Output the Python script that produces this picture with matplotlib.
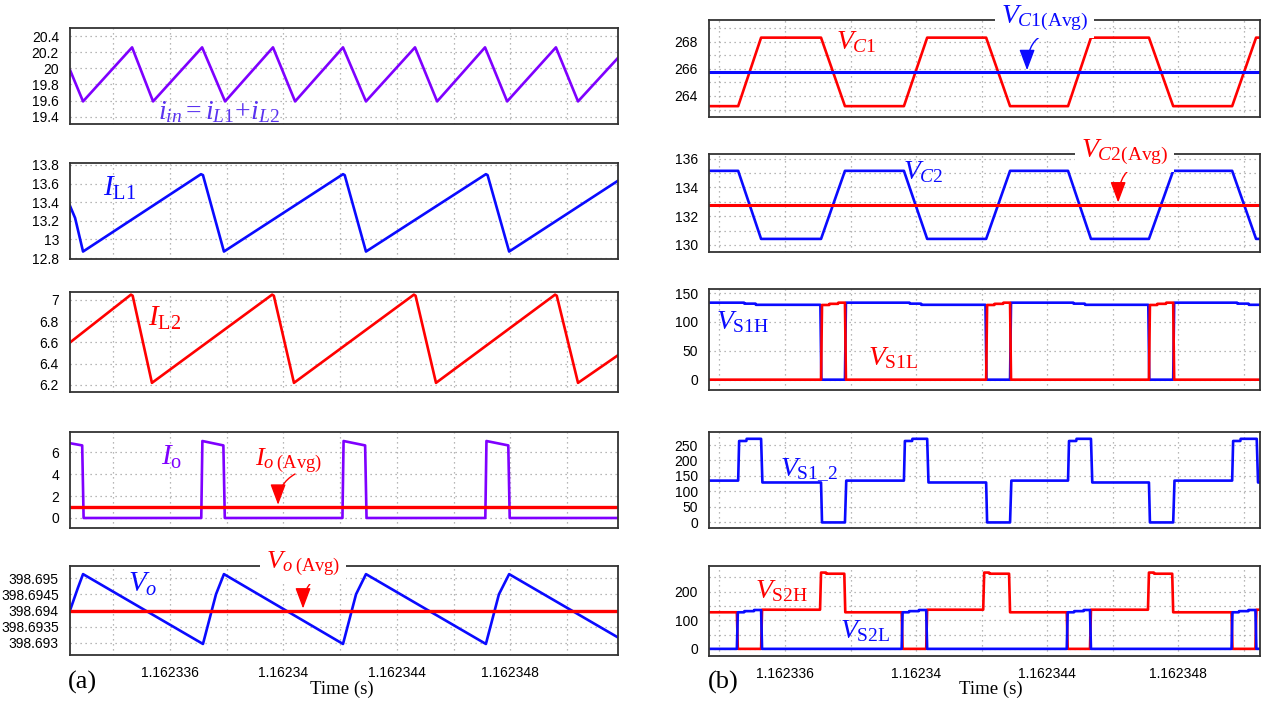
import matplotlib.pyplot as plt
from matplotlib.ticker import MultipleLocator
from matplotlib.transforms import ScaledTranslation

plt.rcParams['font.family'] = ['Liberation Sans', 'DejaVu Sans']
plt.rcParams['mathtext.fontset'] = 'custom'
plt.rcParams['mathtext.rm'] = 'Liberation Serif'
plt.rcParams['mathtext.it'] = 'Liberation Serif:italic'
plt.rcParams['mathtext.bf'] = 'Liberation Serif:bold'

# tiempo en microsegundos despues de 1.16233 s
x_ticks = [6, 10, 14, 18]
x_labels = ['1.162336', '1.16234', '1.162344', '1.162348']

# ---- (a) ----
t_iin = [2.47, 2.93, 4.66, 5.40, 7.13, 7.94, 9.63, 10.41, 12.10, 12.91, 14.64, 15.42, 17.11, 17.89, 19.61, 20.39, 21.80]
i_in = [19.98, 19.59, 20.26, 19.59, 20.26, 19.59, 20.26, 19.59, 20.26, 19.59, 20.26, 19.59, 20.26, 19.59, 20.26, 19.59, 20.13]

t_il1 = [2.47, 2.65, 2.93, 7.09, 7.16, 7.90, 12.10, 12.16, 12.91, 17.14, 17.20, 17.96, 21.80]
i_l1 = [13.36, 13.23, 12.87, 13.70, 13.69, 12.87, 13.70, 13.69, 12.87, 13.70, 13.69, 12.87, 13.63]

t_il2 = [2.47, 4.62, 4.68, 5.36, 9.60, 9.66, 10.37, 14.60, 14.66, 15.38, 19.58, 19.64, 20.39, 21.80]
i_l2 = [6.60, 7.05, 7.04, 6.22, 7.05, 7.04, 6.22, 7.05, 7.04, 6.22, 7.05, 7.04, 6.22, 6.48]

t_io = [2.47, 2.90, 2.95, 7.10, 7.14, 7.88, 7.93, 12.08, 12.12, 12.88, 12.93, 17.12, 17.16, 17.93, 17.98, 21.80]
i_o = [6.8, 6.6, 0.0, 0.0, 7.0, 6.6, 0.0, 0.0, 7.0, 6.6, 0.0, 0.0, 7.0, 6.6, 0.0, 0.0]
io_avg = 1.0

t_vo = [2.47, 2.75, 2.93, 7.16, 7.62, 7.90, 12.10, 12.56, 12.91, 17.14, 17.60, 17.96, 21.80]
v_o = [398.6940, 398.6947, 398.69512, 398.69297, 398.6945, 398.69512, 398.69297, 398.6945,
       398.69512, 398.69297, 398.6945, 398.69512, 398.69317]
vo_avg = 398.6940

# ---- (b) ----
t_vc = [3.68, 4.57, 5.27, 7.10, 7.83, 9.63, 10.34, 12.14, 12.87, 14.64, 15.34, 17.11, 17.85, 19.65, 20.38, 20.50]
v_c1 = [263.25, 263.25, 268.3, 268.3, 263.25, 263.25, 268.3, 268.3, 263.25, 263.25, 268.3, 268.3, 263.25, 263.25, 268.3, 268.3]
vc1_avg = 265.75
v_c2 = [135.15, 135.15, 130.42, 130.42, 135.15, 135.15, 130.42, 130.42, 135.15, 135.15, 130.42, 130.42, 135.15, 135.15, 130.42, 130.42]
vc2_avg = 132.8

t_s1h = [3.68, 4.75, 4.76, 5.10, 5.11, 7.08, 7.11, 7.83, 7.86, 9.80, 9.81, 10.15, 10.16, 12.12, 12.15, 12.87, 12.90,
         14.80, 14.81, 15.15, 15.16, 17.09, 17.12, 17.85, 17.88, 19.80, 19.81, 20.15, 20.16, 20.50]
v_s1h = [133.5, 133.5, 131.8, 131.8, 129.8, 129.8, 0, 0, 133.5, 133.5, 131.8, 131.8, 129.8, 129.8, 0, 0, 133.5,
         133.5, 131.8, 131.8, 129.8, 129.8, 0, 0, 133.5, 133.5, 131.8, 131.8, 129.8, 129.8]

t_s1l = [3.68, 7.10, 7.13, 7.35, 7.36, 7.62, 7.63, 7.83, 7.86, 12.14, 12.17, 12.39, 12.40, 12.66, 12.67, 12.87, 12.90,
         17.11, 17.14, 17.36, 17.37, 17.63, 17.64, 17.85, 17.88, 20.50]
v_s1l = [0, 0, 129.5, 129.5, 131.5, 131.5, 133.5, 133.5, 0, 0, 129.5, 129.5, 131.5, 131.5, 133.5, 133.5, 0,
         0, 129.5, 129.5, 131.5, 131.5, 133.5, 133.5, 0, 0]

t_s12 = [3.68, 4.57, 4.60, 4.82, 4.83, 5.27, 5.31, 7.10, 7.13, 7.83, 7.87, 9.63, 9.66, 9.88, 9.89, 10.34, 10.38,
         12.14, 12.17, 12.87, 12.91, 14.64, 14.67, 14.89, 14.90, 15.34, 15.38, 17.11, 17.14, 17.85, 17.89,
         19.65, 19.68, 19.90, 19.91, 20.40, 20.44, 20.50]
v_s12 = [135, 135, 263, 263, 270, 270, 129, 129, 0, 0, 135, 135, 263, 263, 270, 270, 129,
         129, 0, 0, 135, 135, 263, 263, 270, 270, 129, 129, 0, 0, 135,
         135, 263, 263, 270, 270, 129, 129]

t_s2h = [3.68, 4.53, 4.56, 5.27, 5.30, 7.07, 7.10, 7.25, 7.26, 7.81, 7.84, 9.56, 9.59, 10.31, 10.34,
         12.05, 12.08, 12.23, 12.24, 12.84, 12.87, 14.60, 14.63, 15.31, 15.34, 17.08, 17.11, 17.26, 17.27,
         17.82, 17.85, 19.63, 19.66, 20.36, 20.39, 20.50]
v_s2h = [128, 128, 0, 0, 137, 137, 267, 267, 263, 263, 128, 128, 0, 0, 137,
         137, 267, 267, 263, 263, 128, 128, 0, 0, 137, 137, 267, 267, 263,
         263, 128, 128, 0, 0, 137, 137]

t_s2l = [3.68, 4.53, 4.56, 4.75, 4.76, 5.05, 5.06, 5.27, 5.30, 9.56, 9.59, 9.78, 9.79, 10.08, 10.09, 10.31, 10.34,
         14.60, 14.63, 14.82, 14.83, 15.11, 15.12, 15.31, 15.34, 19.63, 19.66, 19.85, 19.86, 20.14, 20.15,
         20.36, 20.39, 20.50]
v_s2l = [0, 0, 128, 128, 132, 132, 136, 136, 0, 0, 128, 128, 132, 132, 136, 136, 0,
         0, 128, 128, 132, 132, 136, 136, 0, 0, 128, 128, 132, 132, 136,
         136, 0, 0]

PURPLE = '#7f00ff'
BLUE = '#0a0aff'
RED = '#ff0000'
W, H = 1271, 706

fig = plt.figure(figsize=(W / 100, H / 100), dpi=100)


def panel(x0, y0, x1, y1, xlim, ylim, yticks, ygrid, ylabels=None, bottom=False):
    ax = fig.add_axes([x0 / W, 1 - y1 / H, (x1 - x0) / W, (y1 - y0) / H])
    ax.set_xlim(xlim)
    ax.set_ylim(ylim)
    ax.set_xticks(x_ticks)
    ax.xaxis.set_minor_locator(MultipleLocator(2))
    ax.set_yticks(yticks)
    ax.yaxis.set_minor_locator(MultipleLocator(ygrid))
    if ylabels:
        ax.set_yticklabels(ylabels)
    if bottom:
        ax.set_xticklabels(x_labels)
        # las etiquetas quedan un poco a la derecha de la rejilla
        for lab in ax.get_xticklabels():
            lab.set_transform(lab.get_transform() + ScaledTranslation(0.04, 0, fig.dpi_scale_trans))
    else:
        ax.tick_params(labelbottom=False)
    ax.tick_params(which='both', length=0, labelsize=10, pad=8)
    ax.grid(which='both', color='#a0a0a0', linestyle=(0, (1, 3)), linewidth=0.9)
    ax.set_axisbelow(True)
    for s in ax.spines.values():
        s.set_color('#333333')
        s.set_linewidth(1.3)
    return ax


def label(x, y, s, color, size=20, box=False):
    kw = {}
    if box:
        kw['bbox'] = dict(facecolor='white', edgecolor='none', pad=4)
    fig.text(x / W, 1 - y / H, s, color=color, fontsize=size, ha='left', va='center', zorder=10, **kw)


def arrow(ax, x, y, xs, ys, color):
    # flecha curva desde el texto hasta la linea promedio
    ax.annotate('', xy=(x, y), xycoords='data', xytext=(xs, H - ys), textcoords='figure pixels',
                arrowprops=dict(arrowstyle='-|>,head_width=0.3,head_length=0.8', color=color, lw=1.0,
                                mutation_scale=16,
                                connectionstyle='angle3,angleA=30,angleB=90', shrinkA=0, shrinkB=0),
                annotation_clip=False)


LX = (2.47, 21.80)
RX = (3.68, 20.50)
LW = 1.9

# columna (a)
ax = panel(70, 28, 618, 124, LX, (19.31, 20.50), [19.4, 19.6, 19.8, 20.0, 20.2, 20.4], 0.2,
           ['19.4', '19.6', '19.8', '20', '20.2', '20.4'])
ax.plot(t_iin, i_in, color=PURPLE, lw=LW)
label(158, 112, r'$i_{in}=i_{L1}\!+\!i_{L2}$', '#5a32f0', 20)

ax = panel(70, 163, 618, 259, LX, (12.79, 13.82), [12.8, 13.0, 13.2, 13.4, 13.6, 13.8], 0.2,
           ['12.8', '13', '13.2', '13.4', '13.6', '13.8'])
ax.plot(t_il1, i_l1, color=BLUE, lw=LW)
label(103, 188, r'$I_{\mathrm{L1}}$', BLUE, 21)

ax = panel(70, 292, 618, 392, LX, (6.134, 7.075), [6.2, 6.4, 6.6, 6.8, 7.0], 0.2,
           ['6.2', '6.4', '6.6', '6.8', '7'])
ax.plot(t_il2, i_l2, color=RED, lw=LW)
label(148, 318, r'$I_{\mathrm{L2}}$', RED, 21)

ax = panel(70, 432, 618, 528, LX, (-0.91, 7.82), [0, 2, 4, 6], 2)
ax.plot(t_io, i_o, color=PURPLE, lw=LW)
ax.axhline(io_avg, color=RED, lw=2.4)
label(161, 457, r'$I_{\mathrm{o}}$', PURPLE, 21)
label(255, 461, r'$I_{o\;\mathrm{(Avg)}}$', RED, 19)
arrow(ax, 9.81, io_avg + 0.2, 295, 474, RED)

ax = panel(70, 566, 618, 655, LX, (398.69263, 398.69537), [398.693, 398.6935, 398.694, 398.6945, 398.695], 0.0005,
           ['398.693', '398.6935', '398.694', '398.6945', '398.695'], bottom=True)
ax.plot(t_vo, v_o, color=BLUE, lw=LW)
ax.axhline(vo_avg, color=RED, lw=2.4)
label(128, 584, r'$V_o$', BLUE, 21)
label(266, 564, r'$V_{o\;\mathrm{(Avg)}}$', RED, 19, box=True)
arrow(ax, 10.69, vo_avg + 0.00006, 317, 578, RED)
fig.text(68 / W, 1 - 682 / H, '(a)', fontsize=19, family='Liberation Serif', ha='left', va='center')
fig.text(342 / W, 1 - 689 / H, 'Time (s)', fontsize=13.5, family='Liberation Serif', ha='center', va='center')

# columna (b)
ax = panel(709, 20, 1260, 117, RX, (262.45, 269.6), [264, 266, 268], 1)
ax.plot(t_vc, v_c1, color=RED, lw=LW)
ax.axhline(vc1_avg, color=BLUE, lw=2.2)
label(836, 42, r'$V_{C\mathrm{1}}$', RED, 20)
label(1001, 18, r'$V_{C\mathrm{1(Avg)}}$', BLUE, 20, box=True)
arrow(ax, 13.39, vc1_avg + 0.15, 1041, 36, BLUE)

ax = panel(709, 154, 1260, 252, RX, (129.51, 136.32), [130, 132, 134, 136], 1)
ax.plot(t_vc, v_c2, color=BLUE, lw=LW)
ax.axhline(vc2_avg, color=RED, lw=2.2)
label(903, 172, r'$V_{C\mathrm{2}}$', BLUE, 20)
label(1081, 152, r'$V_{C\mathrm{2(Avg)}}$', RED, 20, box=True)
arrow(ax, 16.17, vc2_avg + 0.15, 1133, 167, RED)

ax = panel(709, 289, 1260, 390, RX, (-17.9, 157.2), [0, 50, 100, 150], 50)
ax.plot(t_s1h, v_s1h, color=BLUE, lw=LW)
ax.plot(t_s1l, v_s1l, color=RED, lw=LW)
label(716, 322, r'$V_{\mathrm{S1H}}$', BLUE, 20)
label(868, 358, r'$V_{\mathrm{S1L}}$', RED, 20)

ax = panel(709, 432, 1260, 528, RX, (-18, 292), [0, 50, 100, 150, 200, 250], 50)
ax.plot(t_s12, v_s12, color=BLUE, lw=LW)
label(780, 470, r'$V_{\mathrm{S1\_2}}$', BLUE, 20)

ax = panel(709, 566, 1260, 656, RX, (-25, 290), [0, 100, 200], 50, bottom=True)
ax.plot(t_s2h, v_s2h, color=RED, lw=LW)
ax.plot(t_s2l, v_s2l, color=BLUE, lw=LW)
label(755, 591, r'$V_{\mathrm{S2H}}$', RED, 20)
label(840, 631, r'$V_{\mathrm{S2L}}$', BLUE, 20)
fig.text(708 / W, 1 - 682 / H, '(b)', fontsize=19, family='Liberation Serif', ha='left', va='center')
fig.text(991 / W, 1 - 689 / H, 'Time (s)', fontsize=13.5, family='Liberation Serif', ha='center', va='center')

plt.savefig('out.png', dpi=100)
